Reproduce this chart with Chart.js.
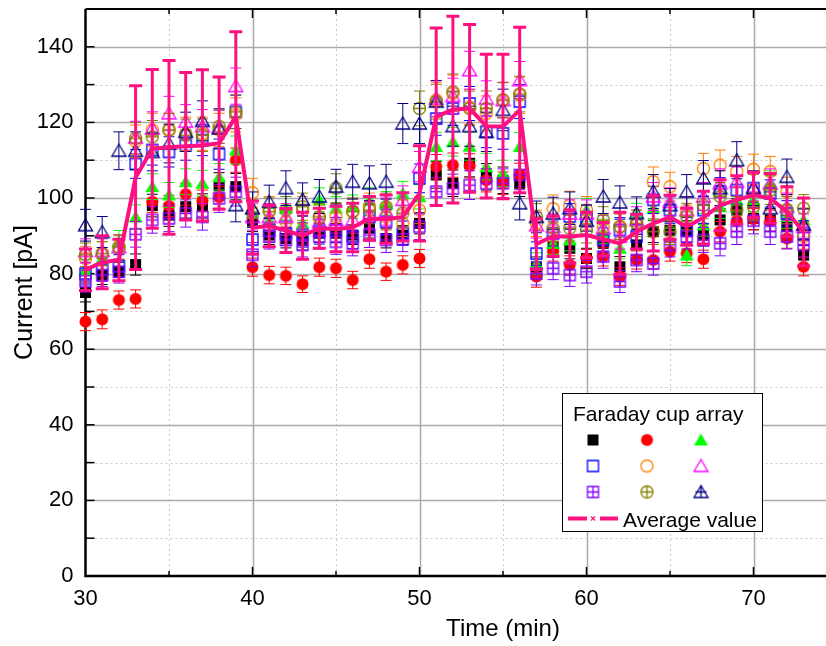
<!DOCTYPE html>
<html>
<head>
<meta charset="utf-8">
<script src="https://cdn.jsdelivr.net/npm/chart.js@4.4.0/dist/chart.umd.min.js"></script>
<style>
  html, body { margin: 0; padding: 0; overflow: hidden; background: #fff; }
  canvas { display: block; }
</style>
</head>
<body>
<canvas id="chart" width="930" height="646"></canvas>
<script>
// time axis (min)
const minutes = [30, 31, 32, 33, 34, 35, 36, 37, 38, 39,
                 40, 41, 42, 43, 44, 45, 46, 47, 48, 49,
                 50, 51, 52, 53, 54, 55, 56, 57, 58, 59,
                 60, 61, 62, 63, 64, 65, 66, 67, 68, 69,
                 70, 71, 72, 73];
const xTicks = [30, 40, 50, 60, 70, 80];
const yTicks = [0, 20, 40, 60, 80, 100, 120, 140];

// Faraday cup currents [pA], one array per cup
const cup1 = [75, 79.6, 80.5, 82.4, 98, 95.5, 97.7, 97.9, 103.2, 103,
              93.7, 90.2, 89.3, 88.7, 90.7, 90.7, 90.2, 92, 89.3, 90.2,
              93.3, 106.1, 103.9, 109.2, 105.6, 104.7, 103.9, 81.8, 87.1, 86.7,
              84, 88, 81.8, 87.6, 91.1, 91.5, 91.1, 90.2, 94.2, 96.8,
              94.6, 94.2, 92.4, 84.9];
const cup2 = [67.3, 67.9, 73, 73.3, 99, 97.9, 101, 99.3, 100.2, 110,
              81.7, 79.6, 79.4, 77.2, 81.7, 81.4, 78.3, 83.8, 80.5, 82.3,
              84, 108.3, 108.7, 108.5, 104.7, 103.9, 106.1, 79.2, 85.8, 82.3,
              84, 84.5, 79.2, 83.6, 83.6, 85.8, 85.4, 83.8, 91.1, 94,
              94.4, 94, 89.3, 81.8];
const cup3 = [81, 84, 88.4, 95, 103, 100.8, 104.3, 103.9, 105.6, 112.7,
              96, 94.2, 97.3, 93.3, 99.5, 97.3, 97.7, 99.5, 98.6, 101.2,
              100.3, 113.6, 114.9, 113.7, 108.3, 106.5, 113.6, 82.7, 88, 88.9,
              96.8, 91, 86.7, 95.5, 97.3, 95.1, 84.9, 92.9, 97.7, 99.5,
              99.5, 103.9, 95.1, 94.2];
const cup4 = [80, 81, 82, 109, 112.7, 112.2, 114, 115.3, 111.6, 122.8,
              89, 91.5, 90.7, 90.2, 91.1, 91.5, 89.8, 95, 93.7, 90.7,
              105.2, 121, 123.7, 125, 117.5, 117.1, 125.5, 85.3, 90.6, 95.1,
              94.6, 88.9, 91.5, 89.8, 99.5, 96.8, 91.5, 96.8, 101.7, 102.1,
              102.6, 101.2, 95.9, 90.7];
const cup5 = [84, 85.3, 87, 115, 118, 118, 117, 117, 118, 122,
              101.4, 96.8, 93.7, 96.8, 94.6, 95, 96.4, 97.7, 95, 93.3,
              96.8, 125.9, 127.7, 124.1, 122.4, 125.9, 127.2, 93.3, 97.2, 98.1,
              96.8, 92.4, 92.4, 93.3, 104.3, 103, 96.8, 107.8, 108.7, 107,
              107.6, 107, 101.7, 89.8];
const cup6 = [86, 86, 87, 116, 118.4, 122.4, 120.2, 119, 118.8, 129.6,
              95, 95, 95, 92, 93.7, 94.2, 94.2, 95.5, 96.4, 99.5,
              108.3, 126.3, 127, 133.8, 126.3, 125.9, 131.2, 92.8, 92.4, 95.9,
              95.9, 92, 89.8, 94.2, 100.4, 99, 96.8, 100.4, 103.9, 104.3,
              103, 103.9, 97.7, 92.4];
const cup7 = [78, 79.6, 80.5, 90.4, 94.2, 94.6, 95.9, 95, 99.9, 101.7,
              85, 89.8, 88.9, 87.6, 89.8, 88.4, 88, 90.2, 88.9, 89.1,
              92.4, 101.7, 102.5, 103.4, 103.9, 103.9, 106.1, 80, 81.4, 79.6,
              80.5, 84.5, 77.9, 83.6, 82.7, 87.6, 89.8, 88.9, 88, 91.1,
              94, 91.1, 89.8, 87.6];
const cup8 = [85, 85.3, 87, 115.8, 116.2, 118, 116.6, 116.6, 118.9, 122.8,
              96, 96.4, 96.8, 97.7, 95, 102.6, 96.4, 96.8, 97.7, 96,
              123.7, 125.5, 128.1, 123.7, 123.7, 125.9, 127.5, 95, 92, 92,
              91.5, 94.2, 92.4, 93.3, 91.1, 91.1, 95.1, 98.1, 100.4, 96.8,
              97.7, 102.1, 96.8, 97.3];
const cup9 = [92.8, 91, 112.5, 112.5, 112.2, 114.4, 117.5, 120.4, 118.4, 98.1,
              97.3, 99, 102.6, 99.6, 100.4, 103, 104.3, 103.9, 104.3, 119.7,
              119.7, 125.5, 119, 119, 117.5, 123.3, 98.6, 95, 95.9, 97.3,
              94, 100.4, 98.8, 96, 101.7, 98.1, 101.7, 105.2, 102.6, 110,
              102.6, 97.3, 105.6, 93];

// error bar half-widths [pA]
const cup1Err = [2.5, 2.5, 2.5, 2.8, 3, 3, 3, 3.2, 3.5, 3.5,
                 2.6, 2.5, 2.5, 2.5, 2.5, 2.5, 2.5, 2.6, 2.5, 2.5,
                 2.8, 3.5, 3.5, 3.6, 3.5, 3.5, 3.5, 2.6, 2.8, 2.8,
                 2.7, 2.8, 2.7, 2.8, 2.9, 2.9, 2.9, 2.9, 3, 3,
                 3, 3, 2.9, 2.7];
const cup2Err = [2.4, 2.5, 2.4, 2.4, 2.8, 2.8, 2.9, 2.8, 2.9, 3.2,
                 2.4, 2.3, 2.3, 2.2, 2.4, 2.4, 2.3, 2.4, 2.3, 2.4,
                 2.4, 3.2, 3.2, 3.2, 3.1, 3, 3.1, 2.8, 2.5, 2.4,
                 2.4, 2.5, 2.3, 2.4, 2.4, 2.5, 2.5, 2.4, 2.7, 2.8,
                 2.8, 2.8, 2.6, 2.4];
const cup3Err = [2.8, 2.9, 3, 3.2, 3.4, 3.3, 3.4, 3.4, 3.5, 3.7,
                 3, 3, 3.1, 3, 3.2, 3.1, 3.1, 3.2, 3.1, 3.2,
                 3.2, 3.7, 3.8, 3.7, 3.5, 3.5, 3.7, 2.8, 2.9, 2.9,
                 3.1, 3, 2.8, 3.1, 3.1, 3.1, 2.8, 3, 3.1, 3.2,
                 3.2, 3.3, 3.1, 3];
const cup4Err = [3, 3, 3, 3.8, 4, 4, 4, 4.1, 4, 4.4,
                 3.2, 3.3, 3.2, 3.2, 3.3, 3.3, 3.2, 3.4, 3.3, 3.2,
                 3.8, 4.4, 4.5, 4.5, 4.2, 4.2, 4.5, 3.1, 3.3, 3.4,
                 3.4, 3.2, 3.3, 3.2, 3.6, 3.5, 3.3, 3.5, 3.7, 3.7,
                 3.7, 3.6, 3.4, 3.3];
const cup5Err = [3.2, 3.2, 3.3, 4.3, 4.4, 4.4, 4.4, 4.4, 4.4, 4.5,
                 3.8, 3.6, 3.5, 3.6, 3.5, 3.5, 3.6, 3.6, 3.5, 3.5,
                 3.6, 4.7, 4.8, 4.6, 4.6, 4.7, 4.8, 3.5, 3.6, 3.7,
                 3.6, 3.4, 3.4, 3.5, 3.9, 3.8, 3.6, 4, 4, 4,
                 4, 4, 3.8, 3.3];
const cup6Err = [3.2, 3.2, 3.2, 4.3, 4.4, 4.5, 4.5, 4.4, 4.4, 4.8,
                 3.5, 3.5, 3.5, 3.4, 3.5, 3.5, 3.5, 3.5, 3.6, 3.7,
                 4, 4.7, 4.7, 5, 4.7, 4.7, 4.9, 3.4, 3.4, 3.6,
                 3.6, 3.4, 3.3, 3.5, 3.7, 3.7, 3.6, 3.7, 3.8, 3.9,
                 3.8, 3.8, 3.6, 3.4];
const cup7Err = [2.9, 3, 3, 3.4, 3.5, 3.5, 3.6, 3.5, 3.7, 3.8,
                 3.2, 3.3, 3.3, 3.2, 3.3, 3.3, 3.3, 3.3, 3.3, 3.3,
                 3.4, 3.8, 3.8, 3.8, 3.8, 3.8, 3.9, 3, 3, 3,
                 3, 3.1, 2.9, 3.1, 3.1, 3.2, 3.3, 3.3, 3.3, 3.4,
                 3.5, 3.4, 3.3, 3.2];
const cup8Err = [3.1, 3.1, 3.2, 4.2, 4.3, 4.4, 4.3, 4.3, 4.4, 4.5,
                 3.5, 3.6, 3.6, 3.6, 3.5, 3.8, 3.6, 3.6, 3.6, 3.5,
                 4.6, 4.6, 4.7, 4.6, 4.6, 4.6, 4.7, 3.5, 3.4, 3.4,
                 3.4, 3.5, 3.4, 3.5, 3.4, 3.4, 3.5, 3.6, 3.7, 3.6,
                 3.6, 3.8, 3.6, 3.6];
const cup9Err = [4.2, 4.1, 5, 5, 5, 5.1, 5.2, 5.3, 5.2, 4.4,
                 4.3, 4.4, 4.6, 4.4, 4.5, 4.6, 4.6, 4.6, 4.6, 5.3,
                 5.3, 5.6, 5.3, 5.3, 5.2, 5.5, 4.4, 4.2, 4.3, 4.3,
                 4.2, 4.5, 4.4, 4.3, 4.5, 4.4, 4.5, 4.7, 4.6, 4.9,
                 4.6, 4.3, 4.7, 4.1];

// average over the array and its spread
const avgValue = [81, 83, 83.6, 105.4, 113, 113.4, 113.7, 113.9, 114.5, 121.5,
                  92.2, 92.6, 91.4, 90, 92, 91.8, 92.2, 94.6, 94.4, 95,
                  101.2, 121.5, 123.4, 123.7, 119, 118.9, 123.3, 87.8, 89.9, 89.8,
                  90.2, 89.1, 88, 91.1, 93.3, 94.9, 92.4, 94.8, 98.1, 99.5,
                  100.8, 99.9, 96.4, 91];
const avgErr = [5.5, 7, 5.5, 24.3, 21, 23, 19.5, 20, 17.5, 22.5,
                7, 5.5, 5.8, 6.2, 5.3, 6, 6.4, 5.8, 6.4, 6.4,
                12.6, 23.5, 24.7, 22.2, 19, 19.1, 21.9, 6.7, 5.3, 7,
                6, 4.4, 8.2, 4.6, 7.3, 5.8, 4.9, 7, 6.7, 6.4,
                6, 6.6, 6.6, 9];

const FONT = "'Liberation Sans', Arial, sans-serif";
const PINK = '#ff1080';

// build a marker bitmap for pointStyle
function marker(shape, color, filled, cross) {
  const c = document.createElement('canvas');
  c.width = 17; c.height = 17;
  const g = c.getContext('2d');
  const m = 8.5;
  g.strokeStyle = color;
  g.fillStyle = color;
  g.lineWidth = 1.3;
  g.beginPath();
  if (shape === 'square') g.rect(m - 5.5, m - 5.5, 11, 11);
  else if (shape === 'circle') g.arc(m, m, 6, 0, Math.PI * 2);
  else { g.moveTo(m, m - 6.5); g.lineTo(m + 7, m + 5.5); g.lineTo(m - 7, m + 5.5); g.closePath(); }
  if (filled) g.fill(); else g.stroke();
  if (cross) {
    g.beginPath();
    g.moveTo(m, m - 5.5); g.lineTo(m, m + 5.5);
    g.moveTo(m - 5.5, m); g.lineTo(m + 5.5, m);
    g.stroke();
  }
  return c;
}

const cups = [
  { data: cup1, err: cup1Err, color: '#000000', shape: 'square', filled: true },
  { data: cup2, err: cup2Err, color: '#ff0000', shape: 'circle', filled: true },
  { data: cup3, err: cup3Err, color: '#00ff00', shape: 'triangle', filled: true },
  { data: cup4, err: cup4Err, color: '#0000ff', shape: 'square' },
  { data: cup5, err: cup5Err, color: '#ff8000', shape: 'circle' },
  { data: cup6, err: cup6Err, color: '#ff00ff', shape: 'triangle' },
  { data: cup7, err: cup7Err, color: '#8000ff', shape: 'square', cross: true },
  { data: cup8, err: cup8Err, color: '#808000', shape: 'circle', cross: true },
  { data: cup9, err: cup9Err, color: '#000080', shape: 'triangle', legendCross: true }
];
cups.forEach(c => {
  c.img = marker(c.shape, c.color, c.filled, c.cross);
  c.legendImg = c.legendCross ? marker(c.shape, c.color, false, true) : c.img;
});

const datasets = cups.map((c, i) => ({
  label: 'Cup ' + (i + 1),
  data: minutes.map((t, j) => ({ x: t, y: c.data[j] })),
  errors: c.err,
  errColor: c.color,
  errWidth: 1,
  capHalf: 5.5,
  pointStyle: c.img,
  pointRadius: 7,
  showLine: false,
  clip: false,
  order: 10 - i
}));
datasets.push({
  type: 'line',
  label: 'Average value',
  data: minutes.map((t, j) => ({ x: t, y: avgValue[j] })),
  errors: avgErr,
  errColor: PINK,
  errWidth: 3,
  capHalf: 6.5,
  borderColor: PINK,
  borderWidth: 4,
  pointRadius: 0,
  tension: 0,
  clip: false,
  order: 0
});

// error bars are painted under each dataset's markers
const errorBars = {
  id: 'errorBars',
  beforeDatasetDraw(chart, args) {
    const ds = chart.data.datasets[args.index];
    if (!ds.errors) return;
    const xs = chart.scales.x, ys = chart.scales.y, g = chart.ctx;
    g.save();
    g.strokeStyle = ds.errColor;
    g.lineWidth = ds.errWidth;
    ds.data.forEach((p, i) => {
      const px = xs.getPixelForValue(p.x);
      const top = ys.getPixelForValue(p.y + ds.errors[i]);
      const bot = ys.getPixelForValue(p.y - ds.errors[i]);
      const h = ds.capHalf;
      g.beginPath();
      g.moveTo(px, top); g.lineTo(px, bot);
      g.moveTo(px - h, top); g.lineTo(px + h, top);
      g.moveTo(px - h, bot); g.lineTo(px + h, bot);
      g.stroke();
    });
    g.restore();
  }
};

// grid, frame and inward ticks
const frame = {
  id: 'frame',
  beforeDatasetsDraw(chart) {
    const g = chart.ctx, a = chart.chartArea;
    const xs = chart.scales.x, ys = chart.scales.y;
    g.save();
    for (let v = 35; v < 80; v += 5) {
      const px = Math.round(xs.getPixelForValue(v)) + 0.5;
      const major = v % 10 === 0;
      g.strokeStyle = major ? '#aaaaaa' : '#c8c8c8';
      g.lineWidth = major ? 1.5 : 1;
      g.setLineDash(major ? [] : [2, 3]);
      g.beginPath(); g.moveTo(px, a.top); g.lineTo(px, a.bottom); g.stroke();
    }
    for (let v = 10; v < 150; v += 10) {
      const py = Math.round(ys.getPixelForValue(v)) + 0.5;
      const major = v % 20 === 0;
      g.strokeStyle = major ? '#aaaaaa' : '#c8c8c8';
      g.lineWidth = major ? 1.5 : 1;
      g.setLineDash(major ? [] : [2, 3]);
      g.beginPath(); g.moveTo(a.left, py); g.lineTo(a.right, py); g.stroke();
    }
    g.setLineDash([]);
    g.strokeStyle = '#000';
    g.lineWidth = 1.5;
    for (let v = 10; v < 150; v += 10) {
      const py = ys.getPixelForValue(v);
      g.beginPath(); g.moveTo(a.left, py); g.lineTo(a.left + 9, py); g.stroke();
      g.beginPath(); g.moveTo(a.right, py); g.lineTo(a.right - 9, py); g.stroke();
    }
    for (let v = 35; v < 80; v += 5) {
      const px = xs.getPixelForValue(v);
      const len = v % 10 === 0 ? 9 : 5;
      g.beginPath(); g.moveTo(px, a.bottom); g.lineTo(px, a.bottom - len); g.stroke();
      g.beginPath(); g.moveTo(px, a.top); g.lineTo(px, a.top + len); g.stroke();
    }
    g.lineWidth = 2.5;
    g.beginPath();
    g.moveTo(a.left, a.top); g.lineTo(a.left, a.bottom); g.lineTo(a.right, a.bottom);
    g.stroke();
    g.lineWidth = 2;
    g.beginPath(); g.moveTo(a.left, a.top); g.lineTo(a.right, a.top); g.stroke();
    g.restore();
  }
};

// boxed legend with the 3x3 symbol grid
const legendBox = {
  id: 'legendBox',
  afterDraw(chart) {
    const g = chart.ctx;
    g.save();
    g.fillStyle = '#fff';
    g.fillRect(562, 393, 200, 138);
    g.strokeStyle = '#000';
    g.lineWidth = 1;
    g.strokeRect(562.5, 393.5, 200, 138);
    g.fillStyle = '#000';
    g.font = '21px ' + FONT;
    g.textBaseline = 'alphabetic';
    g.fillText('Faraday cup array', 573, 421);
    const cols = [593, 647, 701], rows = [440, 466, 492];
    cups.forEach((c, i) => {
      const img = c.legendImg;
      g.drawImage(img, cols[i % 3] - img.width / 2, rows[Math.floor(i / 3)] - img.height / 2);
    });
    g.strokeStyle = PINK;
    g.lineWidth = 4;
    g.beginPath();
    g.moveTo(568, 518.5); g.lineTo(587, 518.5);
    g.moveTo(600, 518.5); g.lineTo(618, 518.5);
    g.stroke();
    g.lineWidth = 1.2;
    g.beginPath();
    g.moveTo(591, 516.5); g.lineTo(595, 520.5);
    g.moveTo(595, 516.5); g.lineTo(591, 520.5);
    g.stroke();
    g.fillStyle = '#000';
    g.fillText('Average value', 623, 527);
    g.restore();
  }
};

// keep the plot box fixed: no extra room for overhanging tick labels
function noOverhang(s) {
  s.paddingTop = 0; s.paddingBottom = 0;
  s.paddingLeft = 0; s.paddingRight = 0;
}

new Chart(document.getElementById('chart').getContext('2d'), {
  type: 'scatter',
  data: { datasets },
  options: {
    responsive: false,
    animation: false,
    events: [],
    layout: { padding: { top: 9, right: 9.5, left: 0, bottom: 0 } },
    plugins: { legend: { display: false }, tooltip: { enabled: false } },
    scales: {
      x: {
        type: 'linear', min: 30, max: 80,
        afterFit: s => { s.height = 70; noOverhang(s); },
        afterBuildTicks: s => { s.ticks = xTicks.map(v => ({ value: v })); },
        grid: { display: false, drawTicks: false },
        border: { display: false },
        ticks: { color: '#000', font: { family: FONT, size: 22 }, padding: 10, maxRotation: 0 },
        title: { display: true, text: 'Time (min)', color: '#000', font: { family: FONT, size: 24 }, padding: { top: 0, bottom: 2 } }
      },
      y: {
        type: 'linear', min: 0, max: 150,
        afterFit: s => { s.width = 85.5; noOverhang(s); },
        afterBuildTicks: s => { s.ticks = yTicks.map(v => ({ value: v })); },
        grid: { display: false, drawTicks: false },
        border: { display: false },
        ticks: { color: '#000', font: { family: FONT, size: 22 }, padding: 12 },
        title: { display: true, text: 'Current [pA]', color: '#000', font: { family: FONT, size: 25 }, padding: { top: 10, bottom: 0 } }
      }
    }
  },
  plugins: [frame, errorBars, legendBox]
});
</script>
</body>
</html>
